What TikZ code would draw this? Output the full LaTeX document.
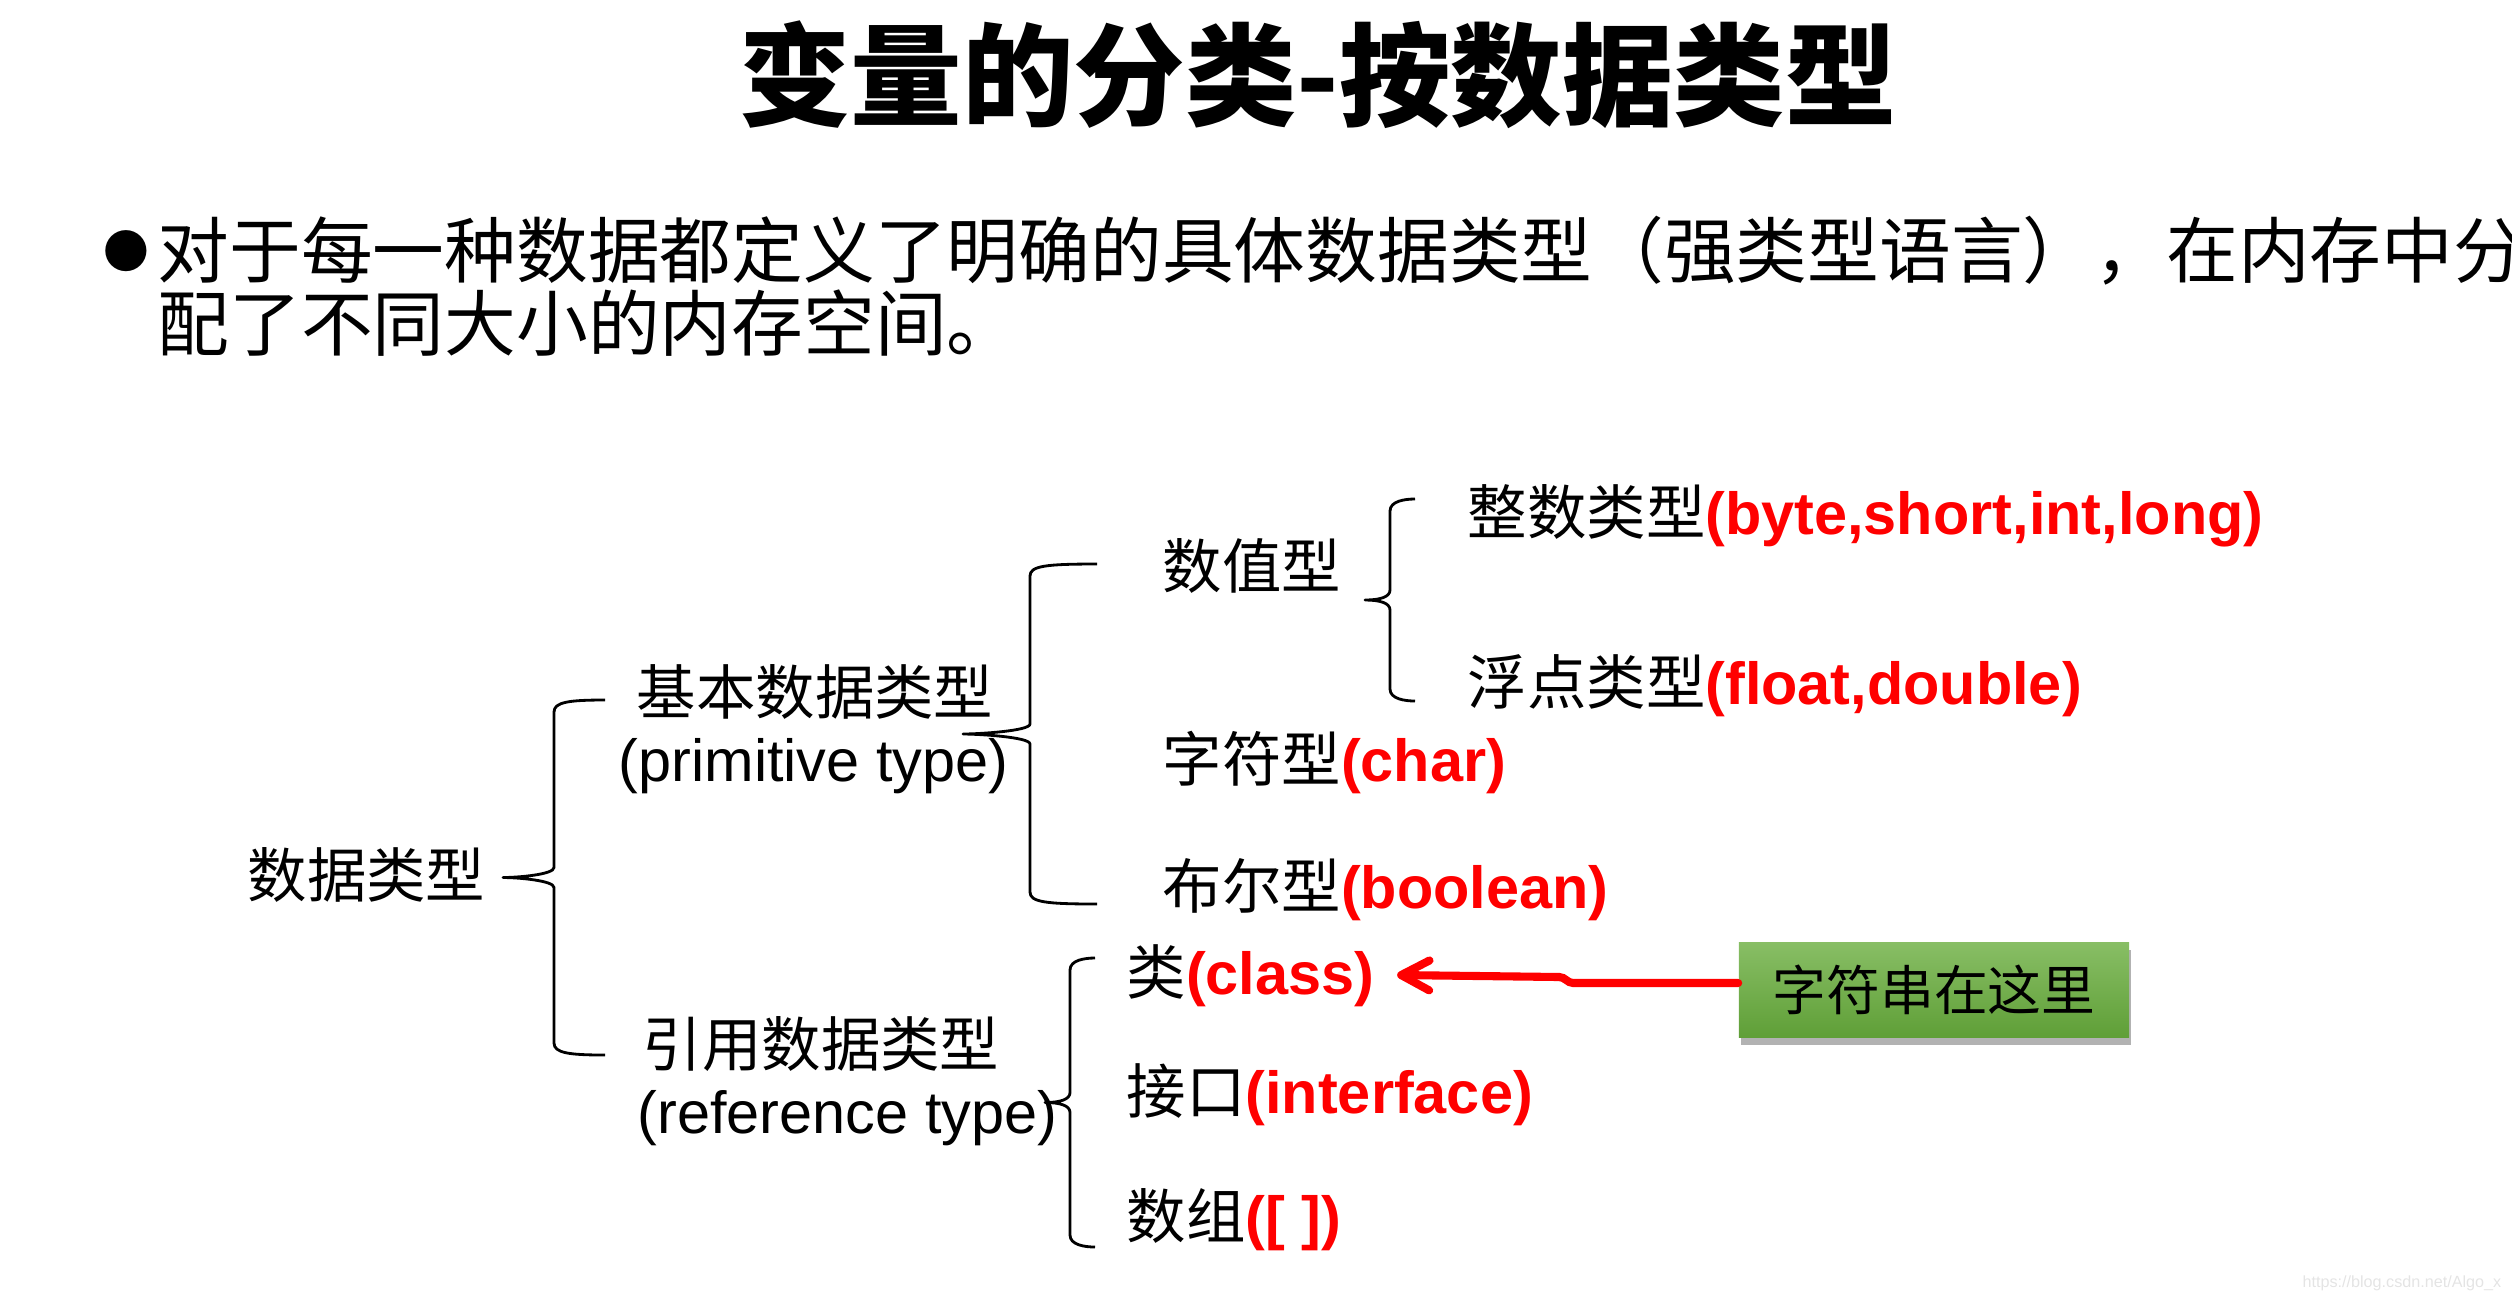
\documentclass[tikz,border=0pt]{standalone}
\usepackage{fontspec}
\setmainfont{Liberation Sans}
\newfontfamily\cjk{Noto Sans CJK SC}
\usetikzlibrary{arrows.meta,positioning,calc,shadows}
\definecolor{Ink}{HTML}{000000}
\definecolor{KeyRed}{HTML}{FF0000}
\definecolor{BoxTop}{HTML}{88BE65}
\definecolor{BoxBot}{HTML}{5F9F37}
\definecolor{Mark}{HTML}{E4E4E4}
\tikzset{
 heading/.style={inner sep=0pt, font=\cjk\bfseries\fontsize{31.7}{34}\selectfont},
 para/.style={anchor=west, inner sep=0pt, font=\cjk\fontsize{20.4}{22}\selectfont},
 cn/.style={anchor=west, inner sep=0pt, font=\cjk\fontsize{16.9}{20}\selectfont},
 en/.style={anchor=west, inner sep=0pt, font=\fontsize{16.9}{20}\selectfont},
 curly/.style={draw=Ink, line width=0.8pt, line join=round},
 note/.style={minimum width=3.9cm, minimum height=0.95cm, inner sep=0pt, top color=BoxTop, bottom color=BoxBot, font=\cjk\fontsize{15.3}{18}\selectfont, drop shadow={shadow xshift=0.6pt, shadow yshift=-2.2pt, fill=black, opacity=0.3}},
 pointer/.style={draw=KeyRed, line width=2.3pt, line cap=round, -{Straight Barb[length=8pt,width=8.5pt,round]}}
}
\newcommand{\kw}[1]{{\rmfamily\bfseries\color{KeyRed}#1}}
% arm x, spine x, top y, bottom y
\newcommand{\curly}[4]{%
 \pgfmathsetmacro{\tipx}{2*#2-#1}
 \pgfmathsetmacro{\midy}{(#3+#4)/2}
 \draw[curly] (#1,#3) .. controls (#2+15,#3) and (#2,#3+2) .. (#2,#3+12) -- (#2,\midy-10)
  .. controls (#2,\midy-3) and (\tipx+15,\midy) .. (\tipx,\midy)
  .. controls (\tipx+15,\midy) and (#2,\midy+3) .. (#2,\midy+10) -- (#2,#4-12)
  .. controls (#2,#4-2) and (#2+15,#4) .. (#1,#4);
}
\begin{document}
\begin{tikzpicture}[x=0.01cm,y=-0.01cm]
\useasboundingbox (0,0) rectangle (2512,1302);
\node[heading] (ttl) at (1318,75) {变量的分类-按数据类型};
\node[para, anchor=center, font=\cjk\fontsize{13}{14}\selectfont] (dot) at (126,251) {●};
\node[para] (p1) at (157,251) {对于每一种数据都定义了明确的具体数据类型（强类型语言），在内存中分};
\node[para] (p2) at (157,323) {配了不同大小的内存空间。};

% tree
\node[cn] (dtype) at (247,875) {数据类型};
\node[cn] (prim) at (636,692) {基本数据类型};
\node[en] (primen) at (618,766) {(primitive type)};
\node[cn] (ref) at (642,1044) {引用数据类型};
\node[en] (refen) at (637,1118) {(reference type)};
\node[cn] (num) at (1162,566) {数值型};
\node[cn] (int) at (1467,516) {整数类型\kw{(byte,short,int,long)}};
\node[cn] (flt) at (1467,686) {浮点类型\kw{(float,double)}};
\node[cn] (chr) at (1162,762) {字符型\kw{(char)}};
\node[cn] (bool) at (1162,890) {布尔型\kw{(boolean)}};
\node[cn] (cls) at (1126,976) {类\kw{(class)}};
\node[cn] (itf) at (1126,1095) {接口\kw{(interface)}};
\node[cn] (arr) at (1126,1220) {数组\kw{([ ])}};

\curly{605}{554}{700}{1055}
\curly{1097}{1030}{564}{904}
\curly{1415}{1390}{499}{701}
\curly{1095}{1070}{958}{1247}

\node[note] (note) at (1934,990) {字符串在这里};
\draw[pointer] ($(note.west)+(0,-7)$) -- ++(-165,0) .. controls +(-6,0) and +(6,0) .. ++(-14,-6) -- ($(cls.east)+(22,-1)$);

\node[anchor=east, inner sep=0pt, text=Mark, font=\fontsize{4.6}{5}\selectfont] (mark) at (2502,1283) {https://blog.csdn.net/Algo\_x};
\end{tikzpicture}
\end{document}
